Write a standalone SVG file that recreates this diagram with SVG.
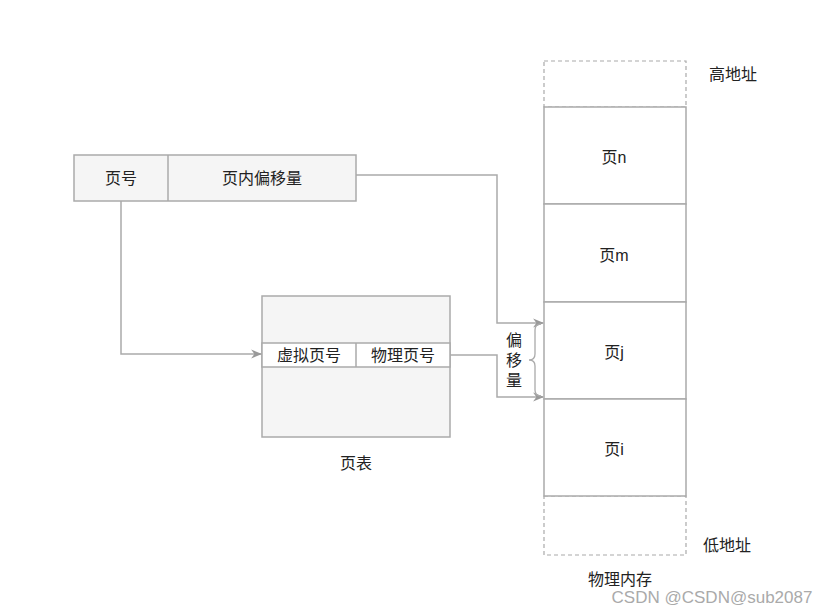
<svg xmlns="http://www.w3.org/2000/svg" width="823" height="614" viewBox="0 0 823 614">
<defs>
<style>
text{font-family:"Liberation Sans","Noto Sans CJK SC",sans-serif;font-size:16px;fill:#222;text-anchor:middle;dominant-baseline:central}
.box{fill:#f5f5f5;stroke:#aaa;stroke-width:1.5}
.cell{fill:#fff;stroke:#aaa;stroke-width:1.5}
.dash{fill:none;stroke:#aaa;stroke-width:1.2;stroke-dasharray:4 3}
.conn{fill:none;stroke:#aaa;stroke-width:1.5}
</style>
<marker id="arr" viewBox="0 0 10 10" refX="9" refY="5" markerWidth="11" markerHeight="11" markerUnits="userSpaceOnUse" orient="auto">
<path d="M0,1 L10,5 L0,9 L3,5 Z" fill="#999"/>
</marker>
</defs>
<rect width="823" height="614" fill="#fff"/>
<g id="address">
<rect class="box" x="74" y="155" width="282" height="46"/>
<line x1="168" y1="155" x2="168" y2="201" stroke="#aaa" stroke-width="1.5"/>
<text x="121" y="178">页号</text>
<text x="262" y="178">页内偏移量</text>
</g>
<g id="pagetable">
<rect class="box" x="262" y="296" width="188" height="141"/>
<rect class="cell" x="262" y="343" width="188" height="24"/>
<line x1="356" y1="343" x2="356" y2="367" stroke="#aaa" stroke-width="1.5"/>
<text x="309" y="355">虚拟页号</text>
<text x="403" y="355">物理页号</text>
<text x="356" y="463">页表</text>
</g>
<g id="memory">
<rect class="dash" x="544" y="61" width="142" height="46"/>
<rect class="dash" x="544" y="496" width="142" height="59"/>
<g id="page-n"><rect class="cell" x="544" y="107" width="142" height="97"/><text x="614" y="157">页n</text></g>
<g id="page-m"><rect class="cell" x="544" y="204" width="142" height="98"/><text x="614" y="255">页m</text></g>
<g id="page-j"><rect class="cell" x="544" y="302" width="142" height="97"/><text x="614" y="352">页j</text></g>
<g id="page-i"><rect class="cell" x="544" y="399" width="142" height="97"/><text x="614" y="449">页i</text></g>
<text x="733" y="74">高地址</text>
<text x="727" y="545">低地址</text>
<text x="620" y="579">物理内存</text>
</g>
<g id="connectors">
<path class="conn" d="M121,201 V354 H261" marker-end="url(#arr)"/>
<path class="conn" d="M356,175 H497 V323 H543" marker-end="url(#arr)"/>
<path class="conn" d="M450,355 H497 V397 H543" marker-end="url(#arr)"/>
<path d="M541,324 Q535,324 535,330 V354 Q535,360 529,360 Q535,360 535,366 V390 Q535,396 541,396" fill="none" stroke="#aaa" stroke-width="1.3"/>
</g>
<g id="offset-label">
<text x="514" y="340">偏</text>
<text x="514" y="360">移</text>
<text x="514" y="380">量</text>
</g>
<text x="712" y="597" style="font-size:17px;fill:#aaa">CSDN @CSDN@sub2087</text>
</svg>
